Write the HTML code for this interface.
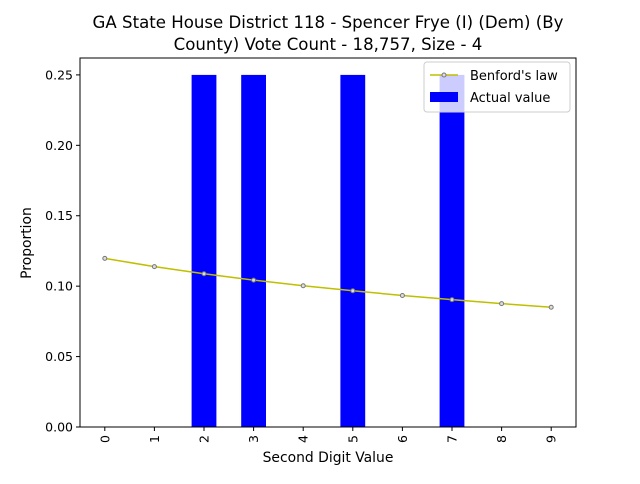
<!DOCTYPE html>
<html><head><meta charset="utf-8"><style>
body{margin:0;background:#fff;font-family:"DejaVu Sans","Liberation Sans",sans-serif;}
</style></head><body>
<svg id="chart" width="640" height="480" xmlns="http://www.w3.org/2000/svg" font-family="DejaVu Sans, Liberation Sans, sans-serif">
<rect width="640" height="480" fill="#fff"/>
<text x="328" y="28" text-anchor="middle" font-size="16.6">GA State House District 118 - Spencer Frye (I) (Dem) (By</text>
<text x="328" y="50" text-anchor="middle" font-size="16.6">County) Vote Count - 18,757, Size - 4</text>
<g id="plot"></g>
<text x="328" y="462" text-anchor="middle" font-size="13.9">Second Digit Value</text>
<text transform="translate(31,243) rotate(-90)" text-anchor="middle" font-size="13.9">Proportion</text>
<g>
<rect x="424" y="62" width="146" height="50" fill="#fff" fill-opacity="0.8" stroke="#ccc" rx="3"/>
<line x1="430" y1="75" x2="458" y2="75" stroke="#bfbf00" stroke-width="1.5"/>
<circle cx="444" cy="75" r="2" fill="#ddd" stroke="#777"/>
<text x="470" y="80" font-size="13">Benford's law</text>
<rect x="430" y="92" width="28" height="10" fill="#0000ff"/>
<text x="470" y="102" font-size="13">Actual value</text>
</g>
</svg>
<script>
const categories=[0,1,2,3,4,5,6,7,8,9];
const actualValues=[0,0,0.25,0.25,0,0.25,0,0.25,0,0];
const benfordValues=[0.1197,0.1139,0.1088,0.1043,0.1003,0.0967,0.0934,0.0904,0.0876,0.0850];
const yTicks=[0,0.05,0.10,0.15,0.20,0.25];
const yTickLabels=["0.00","0.05","0.10","0.15","0.20","0.25"];
const NS="http://www.w3.org/2000/svg";
const L=80,R=576,T=58,B=427;
const xs=v=>L+(v+0.5)/10*(R-L);
const ys=v=>B-v/0.262*(B-T);
const g=document.getElementById('plot');
function mk(t,a){const e=document.createElementNS(NS,t);for(const k in a)e.setAttribute(k,a[k]);g.appendChild(e);return e;}
const bw=(R-L)/10*0.5;
categories.forEach((c,i)=>{
  if(actualValues[i]>0){
    const r=mk('rect',{x:xs(c)-bw/2,y:ys(actualValues[i]),width:bw,height:B-ys(actualValues[i]),fill:'#0000ff'});
    
    
  }
});
const pl=mk('polyline',{points:categories.map((c,i)=>xs(c)+','+ys(benfordValues[i])).join(' '),fill:'none',stroke:'#bfbf00','stroke-width':1.5});


categories.forEach((c,i)=>{
  const p=mk('circle',{cx:xs(c),cy:ys(benfordValues[i]),r:2,fill:'#ddd',stroke:'#777'});
  
  
});
const frame=mk('rect',{x:L,y:T,width:R-L,height:B-T,fill:'none',stroke:'#000','stroke-width':1});


yTicks.forEach((v,i)=>{
  mk('line',{x1:L-4,x2:L,y1:ys(v),y2:ys(v),stroke:'#000'});
  const t=mk('text',{x:L-7,y:ys(v)+4.5,'text-anchor':'end','font-size':12.5});
  t.textContent=yTickLabels[i];
  
  
});
categories.forEach(c=>{
  mk('line',{x1:xs(c),x2:xs(c),y1:B,y2:B+4,stroke:'#000'});
  const t=mk('text',{transform:`translate(${xs(c)+4.5},${B+8}) rotate(-90)`,'text-anchor':'end','font-size':12.5});
  t.textContent=String(c);
  
  
});
</script>
</body></html>
